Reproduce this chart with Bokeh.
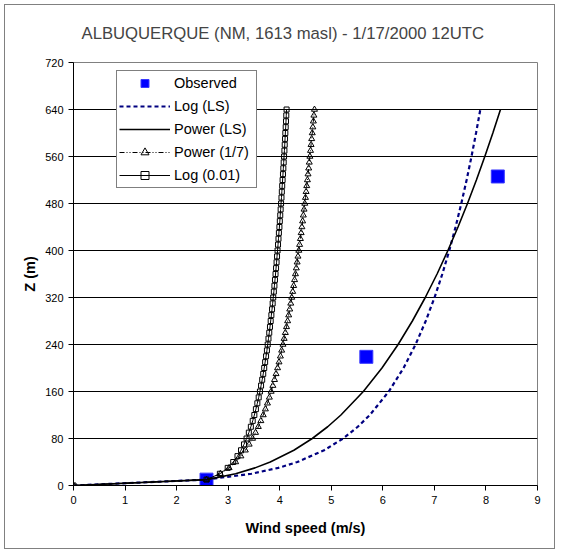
from bokeh.plotting import figure
from bokeh.models import Legend, LegendItem, FixedTicker, Range1d
from bokeh.embed import file_html
from bokeh.resources import INLINE

title_text = "ALBUQUERQUE (NM, 1613 masl) - 1/17/2000 12UTC"
x_label = "Wind speed (m/s)"
y_label = "Z (m)"
x_ticks = [0, 1, 2, 3, 4, 5, 6, 7, 8, 9]
y_ticks = [0, 80, 160, 240, 320, 400, 480, 560, 640, 720]

# Observed
z_obs = [10, 219, 526]
u_obs = [2.58, 5.68, 8.23]

# Least-squares fitted profiles
z_fit = [0, 10, 20, 30, 40, 60, 80, 100, 120, 160, 200, 240, 280, 320, 360,
         400, 440, 480, 520, 560, 600, 640]
u_log_ls = [0, 2.567, 3.454, 3.973, 4.342, 4.861, 5.229, 5.514, 5.748, 6.116,
            6.402, 6.635, 6.832, 7.003, 7.154, 7.289, 7.411, 7.522, 7.625,
            7.720, 7.808, 7.891]
u_pow_ls = [0, 2.590, 3.144, 3.521, 3.816, 4.274, 4.631, 4.930, 5.187, 5.622,
            5.983, 6.296, 6.573, 6.823, 7.052, 7.262, 7.458, 7.642, 7.815,
            7.978, 8.134, 8.282]

# Reference profiles with markers
z_ref = [0, 10, 20, 30, 40, 50, 60, 70, 80, 90, 100, 110, 120, 130, 140, 150,
         160, 170, 180, 190, 200, 210, 220, 230, 240, 250, 260, 270, 280, 290,
         300, 310, 320, 330, 340, 350, 360, 370, 380, 390, 400, 410, 420, 430,
         440, 450, 460, 470, 480, 490, 500, 510, 520, 530, 540, 550, 560, 570,
         580, 590, 600, 610, 620, 630, 640]
u_pow17 = [0, 2.580, 2.849, 3.018, 3.145, 3.247, 3.333, 3.407, 3.473, 3.531,
           3.585, 3.634, 3.680, 3.722, 3.762, 3.799, 3.834, 3.867, 3.899,
           3.929, 3.958, 3.986, 4.013, 4.038, 4.063, 4.086, 4.109, 4.132,
           4.153, 4.174, 4.194, 4.214, 4.233, 4.252, 4.270, 4.288, 4.305,
           4.322, 4.338, 4.354, 4.370, 4.386, 4.401, 4.416, 4.430, 4.444,
           4.458, 4.472, 4.486, 4.499, 4.512, 4.524, 4.537, 4.549, 4.562,
           4.573, 4.585, 4.597, 4.608, 4.620, 4.631, 4.642, 4.653, 4.663, 4.674]
u_log001 = [0, 2.580, 2.839, 2.991, 3.098, 3.181, 3.249, 3.307, 3.357, 3.401,
            3.440, 3.476, 3.508, 3.538, 3.566, 3.592, 3.616, 3.638, 3.660,
            3.680, 3.699, 3.717, 3.735, 3.752, 3.767, 3.782, 3.797, 3.811,
            3.825, 3.838, 3.851, 3.863, 3.874, 3.886, 3.897, 3.908, 3.919,
            3.929, 3.939, 3.948, 3.958, 3.967, 3.976, 3.984, 3.994, 4.002,
            4.010, 4.018, 4.026, 4.034, 4.041, 4.048, 4.056, 4.063, 4.070,
            4.077, 4.084, 4.091, 4.097, 4.103, 4.109, 4.116, 4.122, 4.127, 4.133]

FONT = "Liberation Sans"

p = figure(width=551, height=545, x_range=Range1d(0, 9), y_range=Range1d(0, 720),
           output_backend="svg", toolbar_location=None, title=title_text,
           min_border_left=68, min_border_right=19, min_border_top=56,
           min_border_bottom=65, background_fill_color="white",
           border_fill_color="white",
           styles={"border": "1px solid #808080", "margin": "4px 0 0 4px"})

p.title.text_font = FONT
p.title.text_font_size = "16.7px"
p.title.text_font_style = "normal"
p.title.align = "left"
p.title.vertical_align = "top"
p.title.offset = 8
p.title.standoff = 36

p.outline_line_color = "#808080"
p.xgrid.visible = False
p.ygrid.ticker = FixedTicker(ticks=y_ticks)
p.ygrid.grid_line_color = "black"
p.ygrid.grid_line_width = 1

p.xaxis.ticker = FixedTicker(ticks=x_ticks)
p.yaxis.ticker = FixedTicker(ticks=y_ticks)
for ax in (p.xaxis, p.yaxis):
    ax.axis_line_color = "black"
    ax.major_tick_line_color = "black"
    ax.major_tick_out = 5
    ax.major_tick_in = 0
    ax.minor_tick_line_color = None
    ax.major_label_text_font = FONT
    ax.major_label_text_font_size = "11px"
    ax.major_label_text_color = "black"
    ax.axis_label_text_font = FONT
    ax.axis_label_text_font_size = "14.5px"
    ax.axis_label_text_font_style = "bold"
    ax.axis_label_text_color = "black"
    ax.major_label_standoff = 5
p.xaxis.axis_label = x_label
p.yaxis.axis_label = y_label
p.xaxis.axis_label_standoff = 13
p.yaxis.axis_label_standoff = 4

r_obs = p.scatter(u_obs, z_obs, marker="square", size=13, fill_color="#0000FF",
                  line_color="#3a3aff", line_width=1)
r_logls = p.line(u_log_ls, z_fit, line_color="#000080", line_width=2.2,
                 line_dash="4 3")
r_powls = p.line(u_pow_ls, z_fit, line_color="black", line_width=1.6)
r_p17l = p.line(u_pow17, z_ref, line_color="black", line_width=1,
                line_dash="5 2 1 2 1 2")
r_p17m = p.scatter(u_pow17, z_ref, marker="triangle", size=6, fill_color=None,
                   line_color="black", line_width=1)
r_l01l = p.line(u_log001, z_ref, line_color="black", line_width=1)
r_l01m = p.scatter(u_log001, z_ref, marker="square", size=5, fill_color=None,
                   line_color="black", line_width=1)

legend = Legend(items=[
    LegendItem(label="Observed", renderers=[r_obs]),
    LegendItem(label="Log (LS)", renderers=[r_logls]),
    LegendItem(label="Power (LS)", renderers=[r_powls]),
    LegendItem(label="Power (1/7)", renderers=[r_p17l, r_p17m]),
    LegendItem(label="Log (0.01)", renderers=[r_l01l, r_l01m]),
], location=(43, 297))
legend.label_text_font = FONT
legend.label_text_font_size = "14.5px"
legend.label_text_color = "black"
legend.border_line_color = "black"
legend.border_line_width = 1
legend.background_fill_color = "white"
legend.background_fill_alpha = 1
legend.glyph_width = 51
legend.glyph_height = 20
legend.label_height = 20
legend.label_width = 80
legend.label_standoff = 4
legend.spacing = 3
legend.padding = 2
legend.margin = 0
p.add_layout(legend)

open("out.html", "w").write(file_html(p, INLINE))
